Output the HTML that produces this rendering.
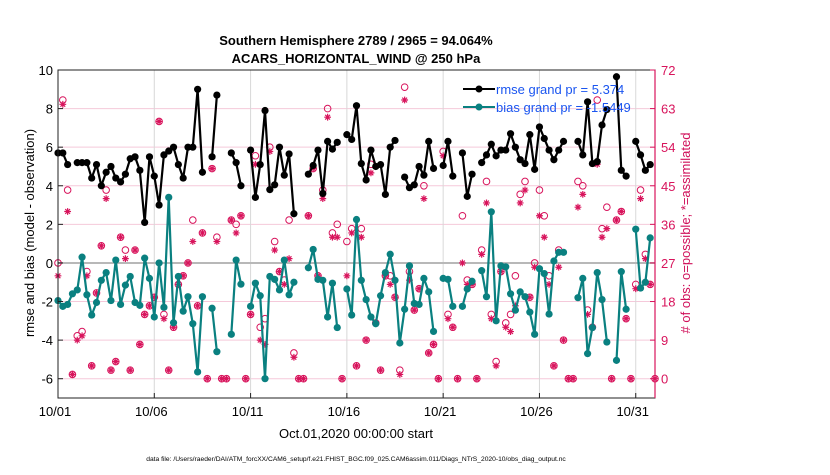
<!DOCTYPE html>
<html><head><meta charset="utf-8"><style>
body{margin:0;background:#fff;}
svg{font-family:"Liberation Sans",sans-serif;}
</style></head><body>
<svg id="chart" width="830" height="470" viewBox="0 0 830 470" xmlns="http://www.w3.org/2000/svg">
<text x="356" y="45" text-anchor="middle" font-size="13" font-weight="bold">Southern Hemisphere 2789 / 2965 = 94.064%</text>
<text x="356" y="63" text-anchor="middle" font-size="13" font-weight="bold">ACARS_HORIZONTAL_WIND @ 250 hPa</text>
<g id="grid"></g><g id="obs"></g><g id="series"></g><g id="axes"></g>
<text transform="translate(34,233) rotate(-90)" text-anchor="middle" font-size="13">rmse and bias (model - observation)</text>
<text transform="translate(690,233) rotate(-90)" text-anchor="middle" font-size="13" fill="#d0105a"># of obs: o=possible; *=assimilated</text>
<text x="356" y="438" text-anchor="middle" font-size="13">Oct.01,2020 00:00:00 start</text>
<text x="356" y="461" text-anchor="middle" font-size="6.7">data file: /Users/raeder/DAI/ATM_forcXX/CAM6_setup/f.e21.FHIST_BGC.f09_025.CAM6assim.011/Diags_NTrS_2020-10/obs_diag_output.nc</text>
<g>
<line x1="463" y1="89" x2="495" y2="89" stroke="#000" stroke-width="2"/><circle cx="479" cy="89" r="3.5" fill="#000"/>
<text x="496" y="94" font-size="13" fill="#1a55f0">rmse grand pr = 5.374</text>
<line x1="463" y1="107" x2="495" y2="107" stroke="#0a8080" stroke-width="2"/><circle cx="479" cy="107" r="3.5" fill="#0a8080"/>
<text x="496" y="112" font-size="13" fill="#1a55f0">bias grand pr = -1.5449</text>
</g>
</svg>
<script>
const xTickLabels=["10/01","10/06","10/11","10/16","10/21","10/26","10/31"];
const xTickDays=[0,5,10,15,20,25,30];
const leftTicks=[10,8,6,4,2,0,-2,-4,-6];
const rightTicks=[72,63,54,45,36,27,18,9,0];
const N=null;
const rmse=[5.7,5.7,5.1,N,5.2,5.2,5.2,4.4,5.1,4.0,4.7,5.0,4.4,4.2,4.6,5.4,5.5,4.8,2.1,5.5,4.5,3.0,5.6,5.8,6.0,5.1,4.4,6.0,6.0,9.0,4.7,N,5.5,8.7,N,N,5.7,5.2,4.0,N,
5.85,3.4,5.1,7.9,3.8,4.05,6.0,4.55,5.65,2.55,N,N,4.6,5.05,5.85,3.6,6.3,5.9,6.25,N,6.65,6.4,8.15,5.15,4.3,5.85,5.0,5.1,3.55,6.0,6.35,N,4.45,3.9,4.05,5.0,4.55,6.3,4.9,N,
5.05,6.3,4.5,N,5.7,3.45,4.6,N,5.2,5.6,6.15,5.55,5.85,5.85,6.7,6.0,5.35,5.15,6.65,4.85,7.05,6.45,5.85,5.35,5.85,6.3,N,N,6.3,5.6,8.35,5.15,5.25,7.15,7.95,N,9.65,4.8,4.5,N,6.3,5.6,4.8,5.1];
const bias=[-1.95,-2.25,-2.15,-1.6,-1.4,0.3,-1.65,-2.7,-2.05,-0.9,-0.5,-1.95,0.15,-2.15,-1.15,-0.7,-2.05,-2.2,0.25,-0.8,-2.8,0,-2.3,3.4,-3.1,-0.7,-2.5,-1.75,-3.15,-5.65,-1.75,N,-2.35,-4.6,N,N,-3.7,0.15,-1.1,N,
-2.25,-1.05,-1.7,-6.0,-0.7,-0.85,-1.4,0.15,-1.65,-1.0,N,N,-0.25,0.7,-0.85,-0.9,-2.8,-1.05,-3.35,N,-1.35,-2.7,2.25,-0.9,-1.9,-2.8,-3.15,-1.7,-0.5,0.45,-0.9,-4.15,-2.4,-0.15,-2.1,-2.15,-0.8,-1.5,-3.55,N,
-0.8,-0.85,-2.25,N,-2.25,-1.35,-0.95,N,-0.4,-1.75,2.65,-3.0,-0.15,-0.2,-1.6,-2.45,-1.5,-1.75,-2.55,-3.7,-0.3,-0.55,-2.65,0.1,0.55,0.55,N,N,-1.8,-0.8,-4.7,-3.35,-0.5,-1.9,-4.1,N,-5.05,-0.45,-2.4,N,1.75,-1.3,-1.0,1.3];
const possible=[27,65,44,1,10,11,25,3,20,31,44,2,4,33,30,2,30,8,15,17,19,60,15,2,12,22,24,27,37,17,34,0,49,33,0,0,37,36,38,0,
15,52,12,14,54,32,25,23,37,6,0,0,38,49,24,44,63,34,36,0,32,35,3,35,9,50,13,2,24,24,19,2,68,25,16,21,45,6,8,0,
53,15,12,0,38,23,22,0,30,46,15,4,25,13,15,24,43,46,19,27,44,38,24,3,30,9,0,0,46,45,16,12,65,35,40,0,37,39,14,0,22,44,29,22,0];
const assimilated=[24,64,39,1,9,10,24,3,20,31,42,2,4,33,28,2,30,8,15,17,19,60,14,2,12,22,24,27,32,17,34,0,49,32,0,0,37,34,38,0,
15,50,9,8,53,30,25,22,28,5,0,0,38,49,24,42,61,33,33,0,24,34,3,33,9,48,13,2,24,22,19,1,65,23,16,21,42,6,8,0,
52,14,12,0,27,22,22,0,29,41,14,3,25,12,11,17,41,44,19,26,38,33,22,3,26,9,0,0,40,43,15,12,50,33,35,0,37,39,14,0,21,42,28,22,0];

const L=58,R=655,T=70,B=398;
const X=d=>L+(d/31)*(R-L);
const Y=v=>T+(10-v)/17*(B-T);
const YR=c=>Y(c/4.5-6);
const NS="http://www.w3.org/2000/svg";
function mk(tag,attrs,parent,txt){const e=document.createElementNS(NS,tag);for(const k in attrs)e.setAttribute(k,attrs[k]);if(txt!==undefined)e.textContent=txt;parent.appendChild(e);return e;}
const grid=document.getElementById('grid'),axes=document.getElementById('axes'),ser=document.getElementById('series'),obs=document.getElementById('obs');
mk('rect',{x:L,y:T,width:R-L,height:B-T,fill:'#fff'},grid);
rightTicks.forEach(c=>{if(c===27||c===72)return;const l=mk('line',{x1:L,x2:R,y1:YR(c),y2:YR(c),stroke:'#f5c9da','stroke-width':1},grid);

});
xTickDays.forEach((d,i)=>{if(i===0)return;const l=mk('line',{x1:X(d),x2:X(d),y1:T,y2:B,stroke:'#d8d8d8','stroke-width':1},grid);

});
const z=mk('line',{x1:L,x2:R,y1:Y(0),y2:Y(0),stroke:'#b8b8b8','stroke-width':2},grid);


const pink='#d8145c';
possible.forEach((c,i)=>{if(c===null)return;const cx=X(i*0.25);
const o=mk('circle',{cx:cx,cy:YR(c),r:3.3,fill:'none',stroke:pink,'stroke-width':1},obs);


const a=assimilated[i],cy=YR(a),s=3.4;
const g=mk('path',{d:`M${cx-s} ${cy}H${cx+s}M${cx} ${cy-s}V${cy+s}M${cx-s*0.7} ${cy-s*0.7}L${cx+s*0.7} ${cy+s*0.7}M${cx-s*0.7} ${cy+s*0.7}L${cx+s*0.7} ${cy-s*0.7}`,stroke:pink,'stroke-width':1.2,fill:'none'},obs);

});
function drawSeries(arr,color,name){let d='',pen=false;arr.forEach((v,i)=>{if(v===null){pen=false;return;}d+=(pen?'L':'M')+X(i*0.25).toFixed(1)+' '+Y(v).toFixed(1);pen=true;});
const p=mk('path',{d:d,fill:'none',stroke:color,'stroke-width':2.2,'stroke-linejoin':'round'},ser);


arr.forEach((v,i)=>{if(v===null)return;const c=mk('circle',{cx:X(i*0.25),cy:Y(v),r:3.6,fill:color},ser);

});}
drawSeries(bias,'#0a8080','bias');
drawSeries(rmse,'#000','rmse');
mk('rect',{x:L,y:T,width:R-L,height:B-T,fill:'none',stroke:'#222','stroke-width':1},axes);
mk('line',{x1:R,x2:R,y1:T,y2:B,stroke:pink,'stroke-width':1.2},axes);
leftTicks.forEach(v=>{mk('line',{x1:L,x2:L+5,y1:Y(v),y2:Y(v),stroke:'#222'},axes);
const t=mk('text',{x:L-5,y:Y(v)+5,'text-anchor':'end','font-size':13},axes,String(v));

});
rightTicks.forEach(c=>{mk('line',{x1:R-5,x2:R,y1:YR(c),y2:YR(c),stroke:pink},axes);
const t=mk('text',{x:R+6,y:YR(c)+5,'font-size':13,fill:pink},axes,String(c));

});
xTickDays.forEach((d,i)=>{mk('line',{x1:X(d),x2:X(d),y1:B,y2:B-5,stroke:'#222'},axes);
const t=mk('text',{x:X(d)-3,y:B+18,'text-anchor':'middle','font-size':13},axes,xTickLabels[i]);

});
</script>
</body></html>
